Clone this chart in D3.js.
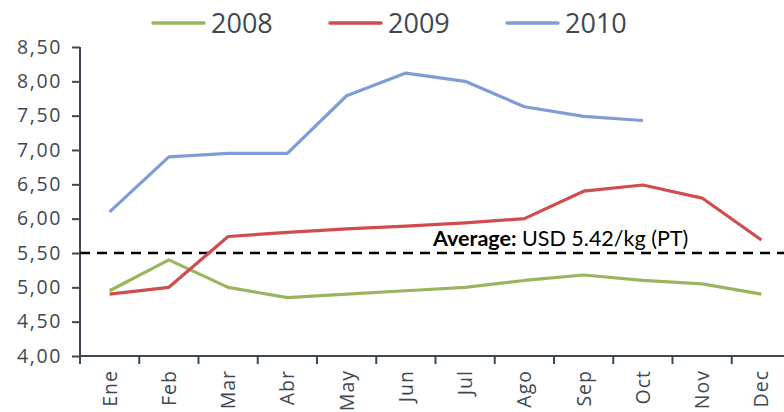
<!DOCTYPE html>
<html lang="es">
<head>
<meta charset="utf-8">
<title>Precio mensual</title>
<script src="https://d3js.org/d3.v7.min.js"></script>
<style>
    body { margin: 0; background: #fff; }
    svg text { font-family: "Open Sans", sans-serif; fill: #3e4852; }
</style>
</head>
<body>
<svg class="chart"></svg>
<script>
// data
var months = ["Ene", "Feb", "Mar", "Abr", "May", "Jun", "Jul", "Ago", "Sep", "Oct", "Nov", "Dec"];
var years = ["2008", "2009", "2010"];
var values2008 = [4.95, 5.40, 5.00, 4.85, 4.90, 4.95, 5.00, 5.10, 5.18, 5.10, 5.05, 4.90];
var values2009 = [4.90, 5.00, 5.74, 5.80, 5.85, 5.89, 5.94, 6.00, 6.40, 6.49, 6.30, 5.69];
var values2010 = [6.10, 6.90, 6.95, 6.95, 7.79, 8.12, 8.00, 7.63, 7.49, 7.43, null, null];
var yTicks = [4.0, 4.5, 5.0, 5.5, 6.0, 6.5, 7.0, 7.5, 8.0, 8.5];
var average = 5.5;
var colors = ["#9bb55e", "#cf4d4d", "#7f9cd4"];

var width = 784, height = 412;
var svg = d3.select(".chart").attr("width", width).attr("height", height);

var x = d3.scaleBand().domain(months).range([80, 791]).padding(0);
var y = d3.scaleLinear().domain([4, 8.5]).range([356, 47]);

var axisColor = "#3e4852";

// y axis
var yAxis = svg.append("g")
    .attr("transform", "translate(80,0)")
    .call(d3.axisLeft(y).tickValues(yTicks).tickSize(8).tickPadding(10)
        .tickFormat(function (d) { return d3.format(".2f")(d).replace(".", ","); }));
yAxis.select(".domain").attr("stroke", axisColor).attr("stroke-width", 2).attr("d", "M0,47V356");
yAxis.selectAll(".tick line").attr("stroke", axisColor).attr("stroke-width", 2);
yAxis.selectAll(".tick text")
    .style("font-size", "19.5px").style("letter-spacing", "1.6px")
    .attr("fill", axisColor);

// x axis with ticks at category boundaries
var xAxisG = svg.append("g");
xAxisG.append("line")
    .attr("x1", 80).attr("x2", 784).attr("y1", 356).attr("y2", 356)
    .attr("stroke", axisColor).attr("stroke-width", 2);
xAxisG.selectAll(".xtick").data(months)
    .enter().append("line")
    .attr("x1", function (d) { return x(d); })
    .attr("x2", function (d) { return x(d); })
    .attr("y1", 356).attr("y2", 364)
    .attr("stroke", axisColor).attr("stroke-width", 2);
xAxisG.selectAll(".xlabel").data(months)
    .enter().append("text")
    .attr("transform", function (d) {
        return "translate(" + (x(d) + x.bandwidth() / 2 + 7) + ",370) rotate(-90)";
    })
    .attr("text-anchor", "end")
    .style("font-size", "19.5px").style("letter-spacing", "1px")
    .text(function (d) { return d; });

// average line
svg.append("line")
    .attr("x1", 80).attr("x2", 784)
    .attr("y1", y(average)).attr("y2", y(average))
    .attr("stroke", "#000").attr("stroke-width", 2.5)
    .attr("stroke-dasharray", "10,7");

var avgLabel = svg.append("text")
    .attr("x", 433).attr("y", 246)
    .style("font-family", "Lato, sans-serif")
    .style("font-size", "21.5px")
    .attr("fill", "#000");
avgLabel.append("tspan").style("font-weight", "bold").attr("fill", "#000").text("Average:");
avgLabel.append("tspan").attr("fill", "#000").text(" USD 5.42/kg (PT)");

// series lines
var series = [values2008, values2009, values2010];
var line = d3.line()
    .defined(function (d) { return d != null; })
    .x(function (d, i) { return x(months[i]) + x.bandwidth() / 2; })
    .y(function (d) { return y(d); });

svg.selectAll(".series").data(series)
    .enter().append("path")
    .attr("class", "series")
    .attr("fill", "none")
    .attr("stroke", function (d, i) { return colors[i]; })
    .attr("stroke-width", 3.2)
    .attr("stroke-linejoin", "round")
    .attr("d", line);

// legend
var legendX = [153, 330, 507];
var legend = svg.selectAll(".legend").data(years)
    .enter().append("g")
    .attr("transform", function (d, i) { return "translate(" + legendX[i] + ",23)"; });
legend.append("line")
    .attr("x1", 0).attr("x2", 51)
    .attr("stroke", function (d, i) { return colors[i]; })
    .attr("stroke-width", 3.5)
    .attr("stroke-linecap", "round");
legend.append("text")
    .attr("x", 58).attr("y", 10)
    .style("font-size", "27px")
    .text(function (d) { return d; });
</script>
</body>
</html>
